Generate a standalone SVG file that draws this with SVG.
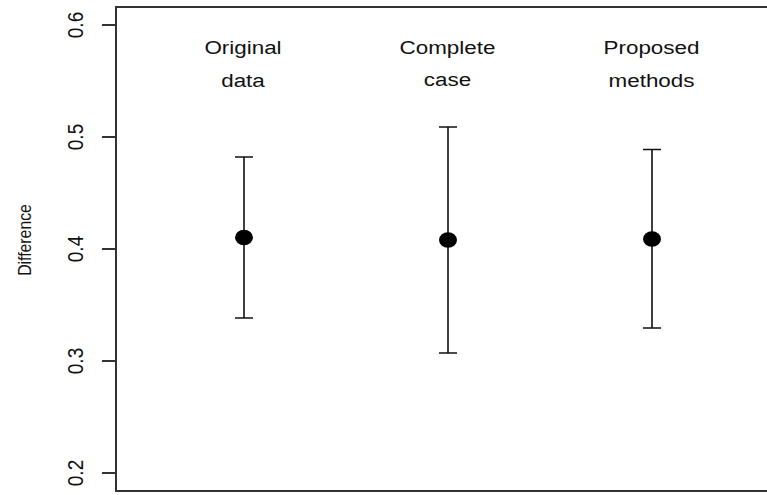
<svg xmlns="http://www.w3.org/2000/svg" width="767" height="495" viewBox="0 0 767 495">
<style>
.ax{fill:none;stroke:#333;stroke-width:2}
.eb{fill:none;stroke:#111;stroke-width:1.6}
.lab{font-family:"Liberation Sans",Arial,sans-serif;font-size:19px;fill:#111;text-anchor:middle}
.yl{font-family:"Liberation Sans",Arial,sans-serif;font-size:15.8px;fill:#111;text-anchor:middle}
.dot{fill:#000}
</style>
<rect width="767" height="495" fill="#fff"/>
<g id="axes">
<path class="ax" d="M767,7 H116 V491 H767"/>
<path class="ax" d="M102,25 H116 M102,137 H116 M102,249 H116 M102,361 H116 M102,473 H116"/>
<text class="lab" transform="translate(83,25) scale(1.18,1) rotate(-90)">0.6</text>
<text class="lab" transform="translate(83,137) scale(1.18,1) rotate(-90)">0.5</text>
<text class="lab" transform="translate(83,249) scale(1.18,1) rotate(-90)">0.4</text>
<text class="lab" transform="translate(83,361) scale(1.18,1) rotate(-90)">0.3</text>
<text class="lab" transform="translate(83,473) scale(1.18,1) rotate(-90)">0.2</text>
<text class="yl" transform="translate(30.5,240) scale(1.18,1) rotate(-90)">Difference</text>
</g>
<g id="connectors">
<path class="eb" d="M244,157 V318 M235,157 H253 M235,318 H253"/>
<path class="eb" d="M448,127 V353 M439,127 H457 M439,353 H457"/>
<path class="eb" d="M652,149.5 V328 M643,149.5 H661 M643,328 H661"/>
</g>
<g id="original">
<text class="lab" transform="translate(243,54) scale(1.18,1)">Original</text>
<text class="lab" transform="translate(243,87) scale(1.18,1)">data</text>
<ellipse class="dot" cx="244" cy="237.5" rx="9" ry="7.7"/>
</g>
<g id="complete">
<text class="lab" transform="translate(447.5,54) scale(1.18,1)">Complete</text>
<text class="lab" transform="translate(447.5,86) scale(1.18,1)">case</text>
<ellipse class="dot" cx="448" cy="240" rx="9" ry="7.7"/>
</g>
<g id="proposed">
<text class="lab" transform="translate(651.5,54) scale(1.18,1)">Proposed</text>
<text class="lab" transform="translate(651.5,87) scale(1.18,1)">methods</text>
<ellipse class="dot" cx="652" cy="239" rx="9" ry="7.7"/>
</g>
</svg>
